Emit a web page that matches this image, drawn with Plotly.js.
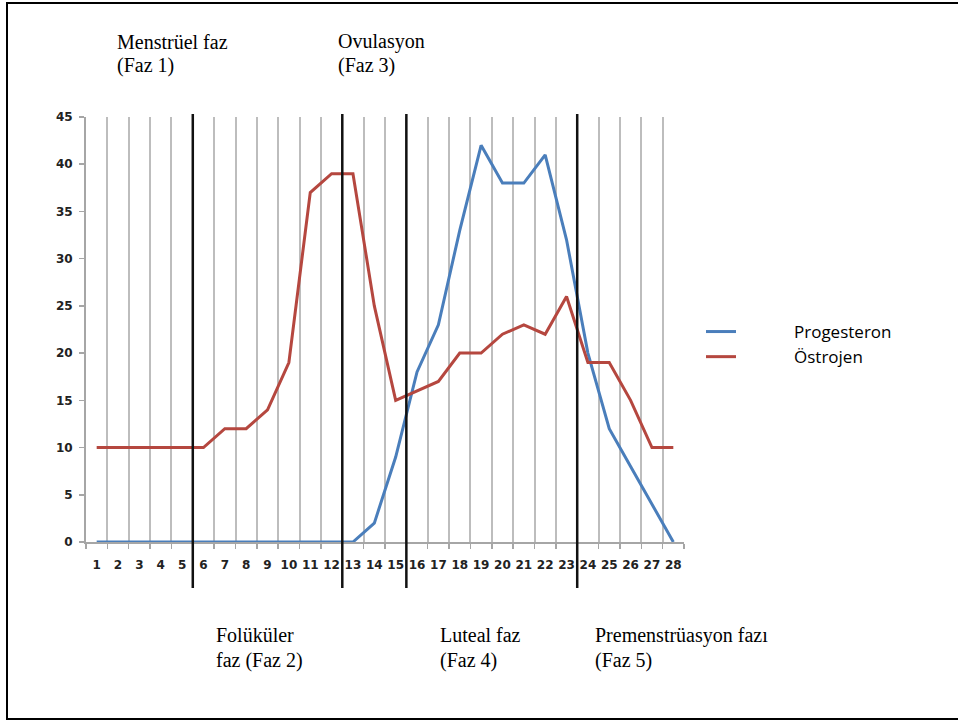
<!DOCTYPE html>
<html>
<head>
<meta charset="utf-8">
<script src="https://cdn.plot.ly/plotly-3.0.1.min.js"></script>
<style>
  html, body { margin: 0; padding: 0; background: #ffffff; overflow: hidden; }
  #wrap { position: relative; width: 958px; height: 724px; }
  #chart { width: 958px; height: 724px; }
  #frame { position: absolute; left: 6px; top: 2px; width: 970px; height: 718px;
           border-left: 2.5px solid #000; border-top: 2.5px solid #000; border-bottom: 2.5px solid #000;
           box-sizing: border-box; pointer-events: none; }
</style>
</head>
<body>
<div id="wrap"><div id="chart"></div><div id="frame"></div></div>
<script>
// ---- data ----
const days = ['1','2','3','4','5','6','7','8','9','10','11','12','13','14',
              '15','16','17','18','19','20','21','22','23','24','25','26','27','28'];
const progesteron = [0,0,0,0,0,0,0,0,0,0,0,0,0,2,9,18,23,33,42,38,38,41,32,20,12,8,4,0];
const ostrojen    = [10,10,10,10,10,10,12,12,14,19,37,39,39,25,15,16,17,20,20,22,23,22,26,19,19,15,10,10];
const seriesNames = ['Progesteron', 'Östrojen'];
// phase boundaries: the black line lies between day d and day d+1
const phaseBoundaryAfterDay = [5, 12, 15, 23];
const topLabels    = [['Menstrüel faz', '(Faz 1)'], ['Ovulasyon', '(Faz 3)']];
const bottomLabels = [['Folüküler', 'faz (Faz 2)'], ['Luteal faz', '(Faz 4)'], ['Premenstrüasyon fazı', '(Faz 5)']];
const yTicks = [0,5,10,15,20,25,30,35,40,45];

// ---- layout helpers (pixel -> paper) ----
const W = 958, H = 724;
const L = 86, R = 684, T = 117, B = 542;
const px = x => (x - L) / (R - L);
const py = y => (B - y) / (B - T);

const pad = '\u00A0'.repeat(12);

const traces = [
  { x: days, y: progesteron, type: 'scatter', mode: 'lines', name: pad + seriesNames[0],
    line: { color: '#4a7ebb', width: 3 } },
  { x: days, y: ostrojen, type: 'scatter', mode: 'lines', name: pad + seriesNames[1],
    line: { color: '#b5473f', width: 3 } }
];

const shapes = phaseBoundaryAfterDay.map(d => ({
  type: 'line', xref: 'x', yref: 'paper',
  x0: d - 0.5, x1: d - 0.5, y0: py(588), y1: py(114),
  line: { color: '#111111', width: 2.5 }
}));

const labelFont = { family: 'Liberation Serif, Times New Roman, serif', size: 20, color: '#000000' };
const topX = [115, 336], topY = [42, 65];
const bottomX = [214, 438, 593], bottomY = [635, 660];
const annotations = [];
topLabels.forEach((lines, i) => lines.forEach((t, j) => annotations.push({
  text: t, xref: 'paper', yref: 'paper', x: px(topX[i]), y: py(topY[j]),
  xanchor: 'left', yanchor: 'middle', align: 'left', showarrow: false, font: labelFont
})));
bottomLabels.forEach((lines, i) => lines.forEach((t, j) => annotations.push({
  text: t, xref: 'paper', yref: 'paper', x: px(bottomX[i]), y: py(bottomY[j]),
  xanchor: 'left', yanchor: 'middle', align: 'left', showarrow: false, font: labelFont
})));

const tickFont = { family: 'DejaVu Sans, Verdana, sans-serif', size: 12, weight: 'bold', color: '#222222' };

const layout = {
  width: W, height: H,
  margin: { l: L, r: W - R, t: T, b: H - B, pad: 0 },
  paper_bgcolor: '#ffffff', plot_bgcolor: '#ffffff',
  showlegend: true,
  legend: {
    x: px(701), y: py(314), xanchor: 'left', yanchor: 'top',
    font: { family: 'Open Sans, sans-serif', size: 17, color: '#000000' },
    bgcolor: 'rgba(0,0,0,0)', borderwidth: 0, tracegroupgap: 0
  },
  xaxis: {
    type: 'category', categoryorder: 'array', categoryarray: days,
    range: [-0.5, 27.5], tickson: 'boundaries', tickangle: 0,
    showgrid: true, gridcolor: '#bdbdbd', gridwidth: 2,
    showline: true, linecolor: '#a6a6a6', linewidth: 2,
    ticks: 'outside', ticklen: 5, tickcolor: '#a6a6a6', tickwidth: 1.5,
    tickfont: tickFont, ticklabelstandoff: 11,
    zeroline: false, fixedrange: true
  },
  yaxis: {
    range: [0, 45], tickvals: yTicks, ticktext: yTicks.map(String),
    showgrid: false, zeroline: false,
    showline: true, linecolor: '#a6a6a6', linewidth: 2,
    ticks: 'outside', ticklen: 5, tickcolor: '#a6a6a6', tickwidth: 1.5,
    tickfont: tickFont, ticklabelstandoff: 4, fixedrange: true
  },
  shapes: shapes,
  annotations: annotations
};

Plotly.newPlot('chart', traces, layout, { displayModeBar: false, staticPlot: true });
</script>
</body>
</html>
